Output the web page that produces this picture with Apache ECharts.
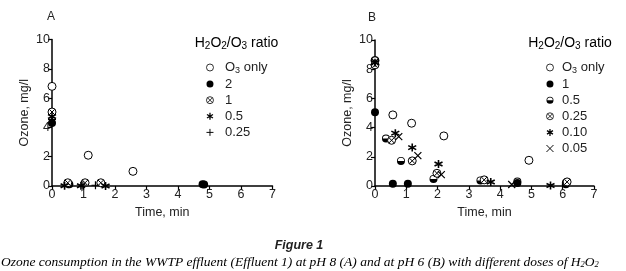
<!DOCTYPE html>
<html>
<head>
<meta charset="utf-8">
<script src="https://cdn.jsdelivr.net/npm/echarts@6/dist/echarts.min.js"></script>
<style>
  html, body { margin: 0; padding: 0; background: #fff; }
  #chart { width: 626px; height: 271px; }
</style>
</head>
<body>
<div id="chart"></div>
<script>
// panel A (pH 8): [time, ozone]
var aO3only = [[0, 6.8], [1.15, 2.1], [2.57, 1.0]]
var aR2 = [[0, 4.3], [0.55, 0.12], [4.78, 0.12], [4.83, 0.1]]
var aR1 = [[0, 5.05], [0.5, 0.22], [1.05, 0.22], [1.55, 0.22]]
var aR05 = [[0, 4.75], [0.4, 0.02], [0.92, 0.02], [1.7, 0.0]]
var aR025 = [[0, 4.55], [0.98, 0.05], [1.38, 0.05]]

// panel B (pH 6)
var bO3only = [[0, 8.6], [0.57, 4.87], [1.17, 4.3], [2.2, 3.43], [4.92, 1.76]]
var bR1 = [[0, 5.05], [0.57, 0.15], [1.05, 0.15], [4.55, 0.2], [6.1, 0.12]]
var bR05 = [[0, 8.6], [0.35, 3.25], [0.83, 1.72], [1.87, 0.48], [3.37, 0.38], [4.55, 0.3], [6.1, 0.22]]
var bR025 = [[0, 8.3], [0.53, 3.13], [1.19, 1.72], [1.98, 0.87], [3.49, 0.42], [6.14, 0.28]]
var bR010 = [[0, 8.45], [0.65, 3.62], [1.19, 2.63], [2.03, 1.51], [3.7, 0.27], [5.61, 0.03]]
var bR005 = [[0, 8.5], [0.76, 3.38], [1.37, 2.08], [2.12, 0.78], [4.37, 0.1]]

var xTicks = [0, 7, 1]   // min, max, interval
var yTicks = [0, 10, 2]

var FONT = 'Liberation Sans'

// marker shapes
var SYM = {
  open: { symbol: 'circle', color: '#fff', bw: 1 },
  filled: { symbol: 'circle', color: '#000', bw: 0 },
  circX: { symbol: 'path://M5,0A5,5,0,1,1,5,10A5,5,0,1,1,5,0ZM1.6,1.6L8.4,8.4M8.4,1.6L1.6,8.4', color: '#fff', bw: 1 },
  half: { symbol: 'path://M0,5A5,5,0,0,0,10,5ZM0,5A5,5,0,0,1,10,5L8.9,5A3.9,3.9,0,0,0,1.1,5Z', color: '#000', bw: 0 },
  star: { symbol: 'path://M5,0L5,10M0.7,2.5L9.3,7.5M9.3,2.5L0.7,7.5', color: 'rgba(0,0,0,0)', bw: 1.6 },
  plus: { symbol: 'path://M5,0L5,10M0,5L10,5', color: 'rgba(0,0,0,0)', bw: 1.2 },
  cross: { symbol: 'path://M0,0L10,10M10,0L0,10', color: 'rgba(0,0,0,0)', bw: 1.2 }
}

function sc(name, idx, data, s, size) {
  return {
    name: name,
    type: 'scatter',
    xAxisIndex: idx,
    yAxisIndex: idx,
    symbol: s.symbol,
    symbolSize: size || 8,
    itemStyle: { color: s.color, borderColor: '#000', borderWidth: s.bw, opacity: 1 },
    emphasis: { disabled: true },
    data: data
  }
}

function axisX(idx) {
  return {
    type: 'value', gridIndex: idx,
    min: xTicks[0], max: xTicks[1], interval: xTicks[2],
    name: 'Time, min', nameLocation: 'middle', nameGap: 19,
    nameTextStyle: { fontFamily: FONT, fontSize: 12.5, color: '#222' },
    axisLine: { lineStyle: { color: '#000', width: 1.5 } },
    axisTick: { length: 4, lineStyle: { color: '#000', width: 1.2 } },
    axisLabel: { fontFamily: FONT, fontSize: 12.5, color: '#222', margin: 2 },
    splitLine: { show: false }
  }
}

function axisY(idx) {
  return {
    type: 'value', gridIndex: idx,
    min: yTicks[0], max: yTicks[1], interval: yTicks[2],
    name: 'Ozone, mg/l', nameLocation: 'middle', nameGap: 21,
    nameTextStyle: { fontFamily: FONT, fontSize: 12.5, color: '#222' },
    axisLine: { lineStyle: { color: '#000', width: 1.5 } },
    axisTick: { length: 4, lineStyle: { color: '#000', width: 1.2 } },
    axisLabel: { fontFamily: FONT, fontSize: 12.5, color: '#222', margin: 2 },
    splitLine: { show: false }
  }
}

// legend label: strip panel prefix, subscript the 3 in O3
var legRich = {
  n: { fontFamily: FONT, fontSize: 13, color: '#222' },
  s: { fontFamily: FONT, fontSize: 9, color: '#222', padding: [6, 0, 0, 0] }
}
function legFmt(name) {
  var n = name.split(':')[1]
  if (n === 'O3 only') return '{n|O}{s|3}{n| only}'
  return '{n|' + n + '}'
}
// legend entries with the icon style spelled out, small icons need thinner strokes
function legItem(name, s) {
  return {
    name: name,
    itemStyle: { color: s.color, borderColor: '#000', borderWidth: s.bw ? Math.max(0.8, s.bw * 0.8) : 0 }
  }
}
function legend(left, top, items, iw) {
  return {
    orient: 'vertical', left: left, top: top,
    itemWidth: iw, itemHeight: 7, itemGap: 2.1,
    selectedMode: false,
    textStyle: { fontFamily: FONT, fontSize: 13, lineHeight: 14, color: '#222', rich: legRich },
    formatter: legFmt,
    data: items
  }
}

var ratioTitle = '{n|H}{s|2}{n|O}{s|2}{n|/O}{s|3}{n| ratio}'
var ratioRich = {
  n: { fontFamily: FONT, fontSize: 14, color: '#222' },
  s: { fontFamily: FONT, fontSize: 10, color: '#222', padding: [7, 0, 0, 0] }
}
var capRich = {
  n: { fontFamily: 'Liberation Serif', fontStyle: 'italic', fontSize: 13.5, color: '#222' },
  s: { fontFamily: 'Liberation Serif', fontStyle: 'italic', fontSize: 8.5, color: '#222', padding: [6, 0, 0, 0] }
}

var chart = echarts.init(document.getElementById('chart'))
chart.setOption({
  animation: false,
  grid: [
    { left: 52, top: 39.5, width: 220.5, height: 146.5 },
    { left: 375, top: 40, width: 219, height: 146 }
  ],
  xAxis: [axisX(0), axisX(1)],
  yAxis: [axisY(0), axisY(1)],
  legend: [
    legend(201, 55.5, [
      legItem('A:O3 only', SYM.open), legItem('A:2', SYM.filled), legItem('A:1', SYM.circX),
      legItem('A:0.5', SYM.star), legItem('A:0.25', SYM.plus)
    ], 20),
    legend(541, 55.5, [
      legItem('B:O3 only', SYM.open), legItem('B:1', SYM.filled), legItem('B:0.5', SYM.half),
      legItem('B:0.25', SYM.circX), legItem('B:0.10', SYM.star), legItem('B:0.05', SYM.cross)
    ], 14)
  ],
  graphic: [
    { type: 'text', x: 51, y: 17, style: { text: 'A', font: '12px ' + FONT, fill: '#222', align: 'center', verticalAlign: 'middle' } },
    { type: 'text', x: 372, y: 18, style: { text: 'B', font: '12px ' + FONT, fill: '#222', align: 'center', verticalAlign: 'middle' } },
    { type: 'text', x: 236.5, y: 43, style: { text: ratioTitle, rich: ratioRich, align: 'center', verticalAlign: 'middle' } },
    { type: 'text', x: 570, y: 43, style: { text: ratioTitle, rich: ratioRich, align: 'center', verticalAlign: 'middle' } },
    { type: 'text', x: 299, y: 246, style: { text: 'Figure 1', font: 'italic bold 12.5px ' + FONT, fill: '#222', align: 'center', verticalAlign: 'middle' } },
    { type: 'text', x: 1, y: 262, style: {
      text: '{n|Ozone consumption in the WWTP effluent (Effluent 1) at pH 8 (A) and at pH 6 (B) with different doses of H}{s|2}{n|O}{s|2}',
      rich: capRich, align: 'left', verticalAlign: 'middle' } }
  ],
  series: [
    sc('A:O3 only', 0, aO3only, SYM.open),
    sc('A:2', 0, aR2, SYM.filled),
    sc('A:1', 0, aR1, SYM.circX),
    sc('A:0.5', 0, aR05, SYM.star),
    sc('A:0.25', 0, aR025, SYM.plus),
    sc('B:O3 only', 1, bO3only, SYM.open),
    sc('B:1', 1, bR1, SYM.filled),
    sc('B:0.5', 1, bR05, SYM.half),
    sc('B:0.25', 1, bR025, SYM.circX),
    sc('B:0.10', 1, bR010, SYM.star),
    sc('B:0.05', 1, bR005, SYM.cross, 7)
  ]
})
</script>
</body>
</html>
